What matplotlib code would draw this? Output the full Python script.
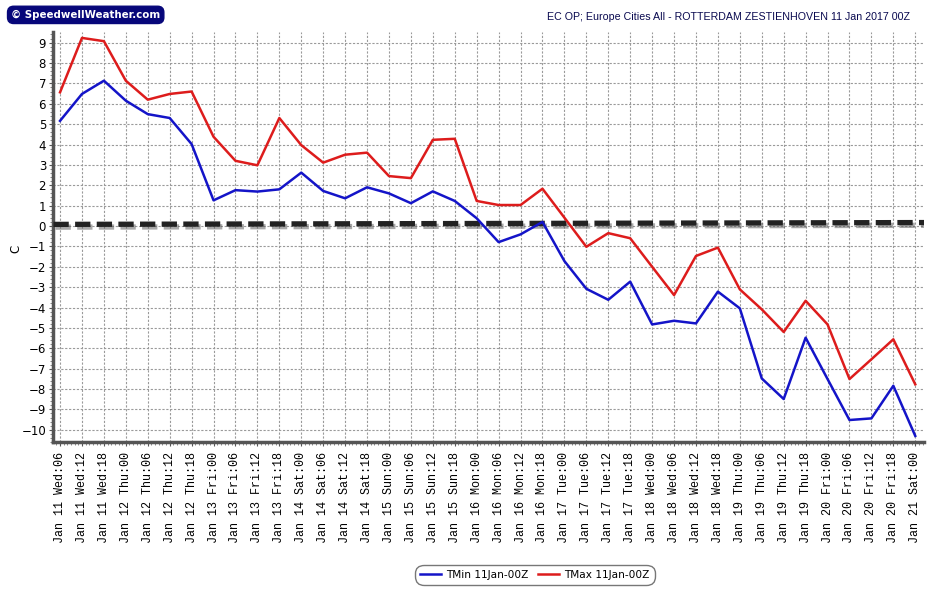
import matplotlib
matplotlib.use("Agg")
import matplotlib.pyplot as plt
import matplotlib.patheffects as pe
from matplotlib.ticker import MultipleLocator
import numpy as np
import pandas as pd

# 6-hourly steps from Jan 11 06Z to Jan 21 00Z
times = pd.date_range("2017-01-11 06:00", "2017-01-21 00:00", freq="6h")
tick_labels = [t.strftime("%b %d %a:%H") for t in times]

tmin = [5.16, 6.48, 7.13, 6.15, 5.49, 5.30, 4.02, 1.26, 1.76, 1.69,
        1.80, 2.62, 1.72, 1.36, 1.90, 1.60, 1.12, 1.70, 1.23, 0.38,
        -0.79, -0.41, 0.20, -1.72, -3.08, -3.62, -2.73, -4.83, -4.65, -4.78,
        -3.22, -4.04, -7.48, -8.49, -5.48, -7.51, -9.52, -9.44, -7.84, -10.30]
tmax = [6.56, 9.23, 9.07, 7.13, 6.20, 6.48, 6.60, 4.38, 3.20, 2.98,
        5.30, 3.97, 3.11, 3.50, 3.60, 2.45, 2.35, 4.23, 4.28, 1.23,
        1.03, 1.03, 1.83, 0.41, -1.02, -0.35, -0.60, -2.00, -3.39, -1.47,
        -1.06, -3.11, -4.09, -5.20, -3.67, -4.83, -7.51, -6.54, -5.56, -7.77]
freezing = [0.08, 0.17]  # start / end of the dashed 0 C line

title = "EC OP; Europe Cities All - ROTTERDAM ZESTIENHOVEN 11 Jan 2017 00Z"

fig = plt.figure(figsize=(9.27, 5.95), dpi=100)
ax = fig.add_axes([0.0572, 0.2571, 0.9396, 0.6891])

x = np.arange(len(times))

# dashed freezing line with a soft shadow
ax.plot([x[0] - 0.3, x[-1] + 0.4], freezing, color="#222222", lw=3.8,
        dashes=(2.9, 1.2), solid_capstyle="butt", zorder=3,
        path_effects=[pe.SimpleLineShadow(offset=(1.5, -2), shadow_color="#555555", alpha=0.5),
                      pe.Normal()])

ax.plot(x, tmin, color="#1414c8", lw=1.8, label="TMin 11Jan-00Z", zorder=4)
ax.plot(x, tmax, color="#dd1c1c", lw=1.8, label="TMax 11Jan-00Z", zorder=4)

ax.set_xlim(-0.32, 39.4)
ax.set_ylim(-10.6, 9.52)

ax.set_xticks(x)
ax.set_xticklabels(tick_labels, rotation=90, family="Liberation Mono", fontsize=8.5)
ax.xaxis.set_minor_locator(MultipleLocator(1 / 6))
ax.yaxis.set_major_locator(MultipleLocator(1))
ax.yaxis.set_minor_locator(MultipleLocator(0.2))
ax.tick_params(axis="y", labelsize=8.5, length=3, width=0.8, color="#555555", pad=2)
ax.tick_params(axis="x", length=3, width=0.8, color="#555555", pad=4)
ax.tick_params(which="minor", length=2, width=0.6, color="#777777")

ax.grid(True, color="#9a9a9a", linestyle=(0, (2, 1.5)), linewidth=0.8)
for s in ["top", "right"]:
    ax.spines[s].set_visible(False)
for s in ["left", "bottom"]:
    ax.spines[s].set_linewidth(2.5)
    ax.spines[s].set_color("#555555")

ax.set_ylabel("C", fontsize=8.5)
ax.yaxis.set_label_coords(-0.035, 0.47)

fig.text(0.982, 0.972, title, ha="right", va="center", fontsize=7.7,
         family="Liberation Sans", color="#0a0a50")

fig.text(0.012, 0.975, "\u00a9 SpeedwellWeather.com", ha="left", va="center",
         fontsize=7.4, fontweight="bold", color="white",
         bbox=dict(boxstyle="round,pad=0.35,rounding_size=0.6", fc="#07077a", ec="#07077a"))

leg = fig.legend(loc="center", bbox_to_anchor=(0.577, 0.034), ncol=2, fontsize=7.6,
                 fancybox=True, edgecolor="#777777", framealpha=1,
                 handlelength=2.0, columnspacing=0.9, borderpad=0.25, handletextpad=0.5)
leg.get_frame().set_linewidth(1.0)
leg.get_frame().set_boxstyle("round", pad=0.2, rounding_size=0.8)

fig.savefig("out.png", dpi=100)
